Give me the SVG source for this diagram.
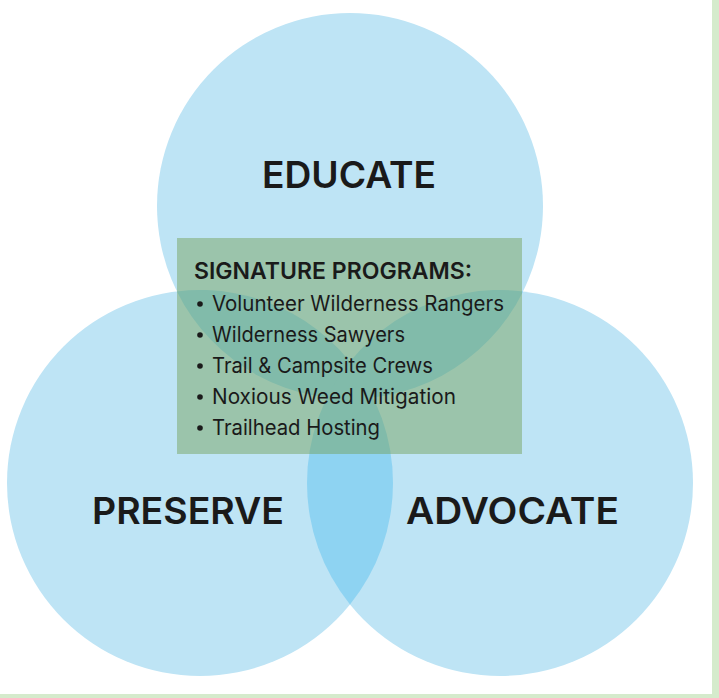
<svg xmlns="http://www.w3.org/2000/svg" width="719" height="698" viewBox="0 0 719 698">
  <style>
    .circle { fill: #bee4f5; }
    .lens { fill: #8ed3f2; }
    .box { fill: #729d53; fill-opacity: 0.45; }
    .big { font-family: Inter, "Liberation Sans", sans-serif; font-weight: 600; font-size: 37px; fill: #1a1a1a; }
    .head { font-family: Inter, "Liberation Sans", sans-serif; font-weight: 600; font-size: 23px; fill: #1a1a1a; }
    .item { font-family: Inter, "Liberation Sans", sans-serif; font-weight: 400; font-size: 21px; fill: #1a1a1a; }
  </style>
  <rect x="0" y="0" width="719" height="698" fill="#d5ebcc"/>
  <rect x="0" y="0" width="712" height="694" fill="#ffffff"/>
  <g id="circles">
    <g id="educate"><circle class="circle" cx="350" cy="206" r="193"/></g>
    <g id="preserve"><circle class="circle" cx="200" cy="483" r="193"/></g>
    <g id="advocate"><circle class="circle" cx="500" cy="483" r="193"/></g>
    <g id="overlaps">
      <path class="lens" d="M176.9,291.4 A193,193 0 0 1 373.1,397.6 A193,193 0 0 1 176.9,291.4 Z"/>
      <path class="lens" d="M523.1,291.4 A193,193 0 0 0 326.9,397.6 A193,193 0 0 0 523.1,291.4 Z"/>
      <path class="lens" d="M350,361.56 A193,193 0 0 1 350,604.44 A193,193 0 0 1 350,361.56 Z"/>
    </g>
  </g>
  <g id="signature-programs">
    <rect class="box" x="177" y="238" width="345" height="216"/>
    <text class="head" x="194" y="279" textLength="278" lengthAdjust="spacingAndGlyphs">SIGNATURE PROGRAMS:</text>
    <g class="item">
      <circle cx="200" cy="304" r="2.8" fill="#1a1a1a"/>
      <text x="212" y="311" textLength="292" lengthAdjust="spacingAndGlyphs">Volunteer Wilderness Rangers</text>
      <circle cx="200" cy="335" r="2.8" fill="#1a1a1a"/>
      <text x="212" y="342" textLength="193" lengthAdjust="spacingAndGlyphs">Wilderness Sawyers</text>
      <circle cx="200" cy="366" r="2.8" fill="#1a1a1a"/>
      <text x="212" y="373" textLength="221" lengthAdjust="spacingAndGlyphs">Trail &amp; Campsite Crews</text>
      <circle cx="200" cy="397" r="2.8" fill="#1a1a1a"/>
      <text x="212" y="404" textLength="244" lengthAdjust="spacingAndGlyphs">Noxious Weed Mitigation</text>
      <circle cx="200" cy="428" r="2.8" fill="#1a1a1a"/>
      <text x="212" y="435" textLength="168" lengthAdjust="spacingAndGlyphs">Trailhead Hosting</text>
    </g>
  </g>
  <g id="labels">
    <text class="big" x="262" y="188" textLength="174" lengthAdjust="spacingAndGlyphs">EDUCATE</text>
    <text class="big" x="92" y="524" textLength="192" lengthAdjust="spacingAndGlyphs">PRESERVE</text>
    <text class="big" x="406" y="524" textLength="213" lengthAdjust="spacingAndGlyphs">ADVOCATE</text>
  </g>
</svg>
